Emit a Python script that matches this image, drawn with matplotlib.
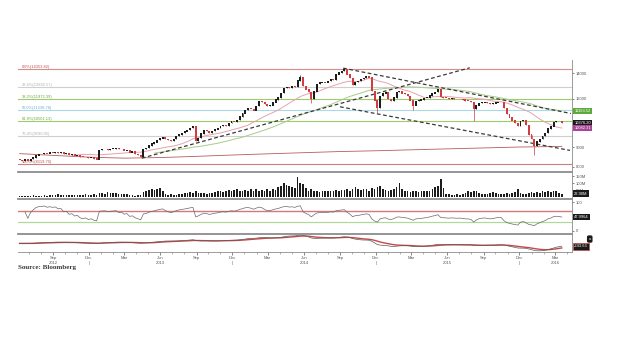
import numpy as np
import pandas as pd
import matplotlib
matplotlib.use("Agg")
import matplotlib.pyplot as plt
import matplotlib.dates as mdates
import matplotlib.transforms as mtrans

# ---------------- data (weekly) ----------------
start_date = "2012-06-08"
first_open = 8350
closes = [
    8320, 8280, 8350, 8300, 8380, 8450, 8560, 8620, 8640, 8680,
    8660, 8700, 8690, 8720, 8690, 8710, 8650, 8670, 8600, 8620,
    8560, 8580, 8500, 8470, 8490, 8430, 8450, 8390, 8360, 8850,
    8880, 8900, 8860, 8900, 8920, 8950, 8880, 8900, 8820, 8850,
    8720, 8750, 8640, 8580, 8500, 8900, 8950, 9080, 9180, 9250,
    9380, 9480, 9550, 9450, 9380, 9320, 9450, 9600, 9700, 9780,
    9880, 9960, 10100, 10200, 9350, 9500, 9750, 9950, 9900, 9800,
    9900, 10000, 10080, 10200, 10270, 10230, 10390, 10480, 10450, 10570,
    10800, 11000, 11250, 11330, 11280, 11200, 11500, 11850, 11800, 11650,
    11530, 11550, 11750, 11950, 12100, 12450, 12800, 12900, 12850, 12950,
    12900, 13400, 13700, 12950, 12700, 12500, 12000, 12550, 13100, 13250,
    13300, 13250, 13340, 13500, 13450, 13900, 14050, 14200, 14300, 13900,
    13600, 13050, 13300, 13350, 13500, 13600, 13750, 13650, 12600, 11900,
    11400, 12200, 12400, 12500, 12000, 11870, 12100, 12500, 12560, 12400,
    12340, 12200, 11900, 11550, 11850, 11900, 11950, 12050, 12100, 12250,
    12400, 12500, 12690, 12150, 12100, 12050, 12000, 12050, 12000, 11980,
    12000, 11950, 11880, 11870, 11800, 11300, 11550, 11700, 11750, 11800,
    11700, 11650, 11680, 11750, 11800, 11780, 11350, 10950, 10750, 10550,
    10400, 10200, 10500, 10570, 10250, 9700, 9450, 9050, 9300, 9450,
    9620, 9780, 10050, 10180, 10450, 10520, 10500, 10376.20,
]
wick_lows = {106: 11700, 130: 11000, 143: 11200, 165: 10500, 187: 8600}
wick_highs = {102: 13850, 118: 14400}
volumes_m = [
    8, 6, 10, 7, 9, 12, 8, 10, 9, 11, 8,
    14, 12, 15, 18, 13, 16, 14, 12, 17, 15, 13, 16, 14, 18, 15,
    17, 20, 15, 30, 28, 25, 35,
    32, 28, 30, 25, 22, 18, 20, 16,
    12, 10, 14, 15,
    35, 45, 50, 55, 48, 60, 65, 40,
    18, 15, 20, 12, 15, 18,
    25, 30, 28, 35, 30, 45, 32, 28, 30, 25, 30, 28,
    35, 40, 45, 38, 42, 50, 45, 48, 55, 45, 40,
    50, 45, 55, 40, 60, 45, 50, 40, 55, 45, 60, 48,
    70, 80, 105, 90, 80, 75, 65, 147, 100, 95,
    65, 45, 55, 40, 45, 35, 45, 40, 42, 45, 40, 50, 45, 50, 48, 55, 45, 60, 70, 55, 50, 60, 55, 45, 65,
    60, 70, 80, 55, 50, 45, 50, 60, 70, 105, 60, 45, 40, 38, 45, 40, 38, 42, 40, 45, 40, 55, 70, 80, 128, 65,
    20, 18, 15, 12, 20, 15, 22, 28, 40, 35, 45, 42, 30, 25, 18, 22, 28, 35, 30, 25, 20,
    25, 30, 22, 28, 35, 57, 30, 25, 22, 28, 35, 30, 38, 32, 40, 35, 42, 38, 45, 40, 30, 22.9,
]
assert len(closes) == len(volumes_m) == 198

long_ma_dates = ["2012-06-08", "2012-09-01", "2012-12-01", "2013-03-01", "2013-06-01",
                 "2013-09-01", "2013-12-01", "2014-03-01", "2014-06-01", "2014-09-01",
                 "2014-12-01", "2015-03-01", "2015-06-01", "2015-09-01", "2015-12-01",
                 "2016-03-18"]
long_ma_values = [8650, 8560, 8470, 8420, 8450, 8510, 8580, 8640, 8700, 8760,
                  8800, 8850, 8900, 8950, 9000, 9030]

fib_high = 14353.82
fib_low = 8119.70
fib_ratios = [0.0, 0.236, 0.382, 0.5, 0.618, 0.764, 1.0]
fib_colors = ["#d98c8c", "#cfcfcf", "#9ccc6e", "#a9d8e6", "#9ccc6e", "#cfcfcf", "#c98080"]
fib_text_colors = ["#c05050", "#b0b0b0", "#6aa83a", "#6aaac8", "#6aa83a", "#b0b0b0", "#c05050"]

trend_lines = [
    (("2013-04-15", 8420), ("2015-07-28", 14460)),
    (("2014-09-09", 14430), ("2016-04-10", 11000)),
    (("2014-09-01", 11450), ("2016-04-08", 8820)),
]

tick_dates = ["2012-09-01", "2012-12-01", "2013-03-01", "2013-06-01", "2013-09-01",
              "2013-12-01", "2014-03-01", "2014-06-01", "2014-09-01", "2014-12-01",
              "2015-03-01", "2015-06-01", "2015-09-01", "2015-12-01", "2016-03-01"]
tick_labels = ["Sep\n2012", "Dec\n|", "Mar", "Jun\n2013", "Sep", "Dec\n|", "Mar",
               "Jun\n2014", "Sep", "Dec\n|", "Mar", "Jun\n2015", "Sep", "Dec\n|", "Mar\n2016"]

price_ticks = [8000, 9000, 12000, 14000]
vol_ticks = [50, 100, 150]
vol_tick_labels = ["50M", "100M", "150M"]

# ---------------- derived ----------------
dates = pd.date_range(start_date, periods=len(closes), freq="7D")
x = mdates.date2num(dates.to_pydatetime())
c = np.array(closes, dtype=float)
o = np.array([first_open] + closes[:-1], dtype=float)
hi = np.maximum(o, c)
lo = np.minimum(o, c)
for k, v in wick_lows.items():
    lo[k] = v
for k, v in wick_highs.items():
    hi[k] = v
s = pd.Series(c)
ma20 = s.rolling(20).mean()
ma50 = s.rolling(50).mean()
delta = s.diff()
gain = delta.clip(lower=0).ewm(alpha=1 / 14, adjust=True).mean()
loss = (-delta.clip(upper=0)).ewm(alpha=1 / 14, adjust=True).mean()
rsi = 100 - 100 / (1 + gain / loss)
ema12 = s.ewm(span=12, adjust=False).mean()
ema26 = s.ewm(span=26, adjust=False).mean()
macd = ema12 - ema26
signal = macd.ewm(span=9, adjust=False).mean()

# ---------------- figure ----------------
plt.rcParams["font.family"] = ["Liberation Sans", "DejaVu Sans"]
fig = plt.figure(figsize=(6.2, 3.55), dpi=100)
W_PX, H_PX = 620, 355
L, R = 18 / W_PX, 572 / W_PX


def ax_at(top, bot):
    return fig.add_axes([L, 1 - bot / H_PX, R - L, (bot - top) / H_PX])


ax_p = ax_at(60, 172)
ax_v = ax_at(172, 199)
ax_r = ax_at(199, 234)
ax_m = ax_at(234, 252)
axes = [ax_p, ax_v, ax_r, ax_m]
xl = (mdates.datestr2num("2012-06-04"), mdates.datestr2num("2016-04-13"))
for ax in axes:
    ax.set_xlim(*xl)
    ax.set_facecolor("white")
    ax.spines["left"].set_visible(False)
    ax.spines["right"].set_color("#8a8a8a")
    ax.spines["right"].set_linewidth(0.6)
    ax.spines["top"].set_color("#8c8c8c")
    ax.spines["top"].set_linewidth(1.3)
    ax.spines["bottom"].set_visible(False)
    ax.yaxis.tick_right()
    ax.tick_params(axis="y", labelsize=3, length=1.5, width=0.5, colors="#555555", pad=1.5)
    ax.tick_params(axis="x", bottom=False, labelbottom=False)
ax_p.spines["top"].set_visible(False)

# price panel
ax_p.set_yscale("log")
ax_p.set_ylim(7750, 15150)
ax_p.set_yticks(price_ticks)
ax_p.set_yticklabels([str(t) for t in price_ticks])
ax_p.yaxis.set_minor_locator(matplotlib.ticker.NullLocator())

rng = fib_high - fib_low
for r, col, tcol in zip(fib_ratios, fib_colors, fib_text_colors):
    lvl = fib_high - r * rng
    ax_p.axhline(lvl, color=col, lw=0.8, zorder=1)
    ax_p.text(xl[0] + 10, lvl * 1.002, f"{r*100:.1f}%({lvl:.2f})", fontsize=2.9,
              color=tcol, va="bottom", ha="left", zorder=2)

ax_p.plot(mdates.datestr2num(long_ma_dates), long_ma_values, color="#b85c5c", lw=0.6, zorder=2)
ax_p.plot(x, ma50, color="#a8cc88", lw=0.7, zorder=2)
ax_p.plot(x, ma20, color="#e6a3ad", lw=0.7, zorder=2)

for (d0, p0), (d1, p1) in trend_lines:
    ax_p.plot(mdates.datestr2num([d0, d1]), [p0, p1], color="#3a3a3a", lw=0.9,
              dashes=(3, 2), zorder=3)

up = c >= o
colors = np.where(up, "#1c1c1c", "#d23c3c")
body_h = np.abs(c - o)
body_b = np.minimum(o, c)
ax_p.vlines(x, lo, hi, colors=colors, lw=0.5, zorder=4)
ax_p.bar(x, body_h + 25, bottom=body_b - 12, width=5.0, color=colors, linewidth=0, zorder=5)

# value boxes (price panel)
btrans = mtrans.blended_transform_factory(ax_p.transAxes, ax_p.transData)
box_items = [(ma50.iloc[-1], "#5daa3c"), (c[-1], "#1a1a1a"), (ma20.iloc[-1], "#a8449a")]
for val, col in box_items:
    ax_p.text(1.004, val, f"{val:.2f}", transform=btrans, fontsize=2.9, color="white",
              va="center", ha="left", clip_on=False, zorder=10,
              bbox=dict(boxstyle="square,pad=0.35", fc=col, ec="none"))

# volume panel
ax_v.bar(x, volumes_m, width=4.2, color="#1c1c1c", linewidth=0)
ax_v.set_ylim(-15, 182)
ax_v.set_yticks(vol_ticks)
ax_v.set_yticklabels(vol_tick_labels)
vtrans = mtrans.blended_transform_factory(ax_v.transAxes, ax_v.transData)
ax_v.text(1.004, volumes_m[-1], f"{volumes_m[-1]:.2f}M", transform=vtrans, fontsize=2.9,
          color="white", va="center", ha="left", clip_on=False, zorder=10,
          bbox=dict(boxstyle="square,pad=0.35", fc="#1a1a1a", ec="none"))

# RSI panel
ax_r.axhline(70, color="#d47a7a", lw=1.0)
ax_r.axhline(30, color="#b5d89a", lw=0.9)
ax_r.plot(x[2:], rsi[2:], color="#6a6a6a", lw=0.5)
ax_r.set_ylim(-10.7, 110.7)
ax_r.set_yticks([0, 100])
ax_r.set_yticklabels(["0", "100"])
rtrans = mtrans.blended_transform_factory(ax_r.transAxes, ax_r.transData)
ax_r.text(1.004, rsi.iloc[-1], f"{rsi.iloc[-1]:.4f}", transform=rtrans, fontsize=2.9,
          color="white", va="center", ha="left", clip_on=False, zorder=10,
          bbox=dict(boxstyle="square,pad=0.35", fc="#1a1a1a", ec="none"))

# MACD panel
ax_m.plot(x, signal, color="#c84848", lw=1.0)
ax_m.plot(x, macd, color="#5a5a5a", lw=0.5)
ax_m.set_ylim(-750, 820)
ax_m.set_yticks([])
mtr = mtrans.blended_transform_factory(ax_m.transAxes, ax_m.transData)
ax_m.text(1.004, macd.iloc[-1], f"{macd.iloc[-1]:.2f}", transform=mtr, fontsize=2.9,
          color="white", va="center", ha="left", clip_on=False, zorder=10,
          bbox=dict(boxstyle="square,pad=0.35", fc="#1a1a1a", ec="#c84848", lw=0.5))
ax_m.text(1.03, 0.72, "o", transform=ax_m.transAxes, fontsize=3, color="white",
          va="center", ha="left", clip_on=False, zorder=10,
          bbox=dict(boxstyle="round,pad=0.4", fc="#1a1a1a", ec="none"))

ax_m.spines["bottom"].set_visible(True)
ax_m.spines["bottom"].set_color("#8a8a8a")
ax_m.spines["bottom"].set_linewidth(0.6)
ax_m.set_xticks(mdates.datestr2num(tick_dates))
ax_m.set_xticklabels(tick_labels)
ax_m.xaxis.set_minor_locator(mdates.MonthLocator())
ax_m.tick_params(axis="x", bottom=True, labelbottom=True, labelsize=3, length=2,
                 width=0.5, colors="#555555", pad=1)
ax_m.tick_params(axis="x", which="minor", length=1.2, width=0.4, colors="#777777")

fig.text(18 / W_PX, 1 - 268 / H_PX, "Source: Bloomberg", fontsize=5, fontweight="bold",
         family=["Liberation Serif", "DejaVu Serif"], color="#3a3a3a", va="center", ha="left")

fig.savefig("out.png", dpi=100, facecolor="white")
